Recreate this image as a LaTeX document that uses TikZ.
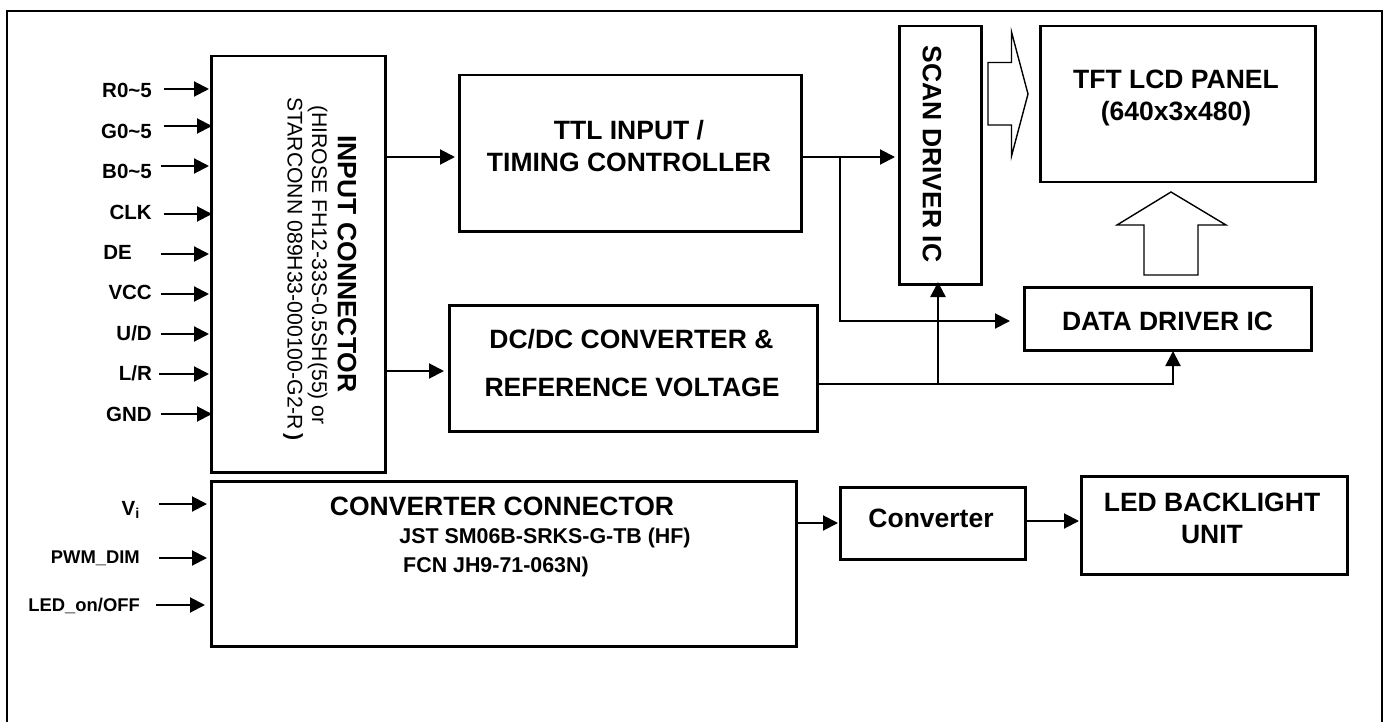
\documentclass[tikz,border=0pt]{standalone}
\usepackage{fontspec}
\setmainfont{Liberation Sans}
\usetikzlibrary{arrows.meta}
\tikzset{x=1pt,y=-1pt,
 block/.style={draw,line width=2.5pt,minimum width=0pt,minimum height=0pt,inner sep=0pt},
 lab/.style={font=\bfseries\fontsize{20.5}{20.5}\selectfont,inner sep=0pt},
 big/.style={font=\bfseries\fontsize{26.5}{32}\selectfont,inner sep=0pt,align=center},
 mid/.style={font=\bfseries\fontsize{21.4}{21.4}\selectfont,inner sep=0pt},
 sml/.style={font=\bfseries\fontsize{18.4}{18.4}\selectfont,inner sep=0pt},
 rot/.style={font=\fontsize{21.2}{21.2}\selectfont,inner sep=0pt,rotate=-90},
 arr/.style={line width=2pt,-{Triangle[length=15pt,width=15pt]}},
 hollow/.style={draw,line width=1.4pt,miter limit=20}}
\newcommand{\blk}[5]{\node[block,anchor=north west,minimum width=#4-#2,minimum height=#5-#3] (#1) at (#2,#3) {};}
\begin{document}
\begin{tikzpicture}
\useasboundingbox (0,0) rectangle (1388,722);
\coordinate (f1) at (7,722);\coordinate (f2) at (7,11);\coordinate (f3) at (1382,11);\coordinate (f4) at (1382,722);
\draw[line width=1.6pt] (f1) -- (f2) -- (f3) -- (f4);
\blk{inp}{210}{55}{384}{471}
\blk{ttl}{458}{74}{800}{230}
\blk{dc}{448}{304}{816}{430}
\blk{scan}{898}{25}{980}{283}
\blk{tft}{1039}{25}{1314}{181}
\blk{data}{1023}{286}{1310}{349}
\blk{cc}{210}{480}{795}{645}
\blk{conv}{839}{486}{1024}{558}
\blk{led}{1080}{475}{1346}{573}
% labels
\node[lab,anchor=east] at (152,90) (l1) {R0\textasciitilde5};
\node[lab,anchor=east] at (152,131) (l2) {G0\textasciitilde5};
\node[lab,anchor=east] at (152,171) (l3) {B0\textasciitilde5};
\node[lab,anchor=east] at (152,212) (l4) {CLK};
\node[lab,anchor=east] at (132,252) (l5) {DE};
\node[lab,anchor=east] at (152,292) (l6) {VCC};
\node[lab,anchor=east] at (152,333) (l7) {U/D};
\node[lab,anchor=east] at (152,373) (l8) {L/R};
\node[lab,anchor=east] at (152,414) (l9) {GND};
\foreach \n/\s/\y/\e in {l1/164/89/209,l2/164/126/212,l3/161/166/209,l4/164/214/212,l5/161/254/209,l6/161/294/209,l7/161/334/209,l8/159/374/209,l9/161/414/212}{
 \coordinate (s\n) at (\s,\y); \coordinate (e\n) at (\e,\y);
 \draw[arr] (s\n) -- (e\n);
}
\node[big,rotate=-90] (t1) at (347,264) {INPUT CONNECTOR};
\node[rot] (t2) at (317.5,265) {(HIROSE FH12-33S-0.5SH(55) or};
\node[rot] (t3) at (293,269) {STARCONN 089H33-000100-G2-R\,{\bfseries)}};
\node[big] (t4) at (629,146.5) {TTL INPUT /\\TIMING CONTROLLER};
\node[big] (t5) at (631.5,339) {DC/DC CONVERTER \&};
\node[big] (t6) at (632,387) {REFERENCE VOLTAGE};
\node[big,rotate=-90] (t7) at (932,154) {SCAN DRIVER IC};
\node[big] (t8) at (1176,98) {TFT LCD PANEL\\(640x3x480)};
\node[big] (t9) at (1167.5,321) {DATA DRIVER IC};
\node[big] (t10) at (502,506) {CONVERTER CONNECTOR};
\node[mid] (t11) at (545,538) {JST SM06B-SRKS-G-TB (HF)};
\node[mid] (t12) at (496,567) {FCN JH9-71-063N)};
\node[big] (t13) at (931,518) {Converter};
\node[big] (t14) at (1212,518.5) {LED BACKLIGHT\\UNIT};
\node[lab,anchor=east] (v1) at (140,510) {V\textsubscript{i}};
\node[sml,anchor=east] (v2) at (140,558) {PWM\_DIM};
\node[sml,anchor=east] (v3) at (140,606) {LED\_on/OFF};
\foreach \n/\s/\y/\e in {v1/159/504/207,v2/159/558/207,v3/156/605/205}{
 \coordinate (s\n) at (\s,\y); \coordinate (e\n) at (\e,\y);
 \draw[arr] (s\n) -- (e\n);
}
% connectors
\coordinate (a1) at (387,157);\coordinate (a2) at (455,157);
\draw[arr] (a1) -- (a2);
\coordinate (a3) at (385,371);\coordinate (a4) at (444,371);
\draw[arr] (a3) -- (a4);
\coordinate (b1) at (803,157);\coordinate (b2) at (895,157);\coordinate (b3) at (840,157);\coordinate (b4) at (840,321);\coordinate (b5) at (1010,321);
\draw[arr] (b1) -- (b2);
\draw[arr] (b3) -- (b4) -- (b5);
\coordinate (c1) at (819,384);\coordinate (c2) at (1173,384);\coordinate (c3) at (1173,351);\coordinate (c4) at (938,384);\coordinate (c5) at (938,282);
\draw[arr] (c1) -- (c2) -- (c3);
\draw[arr,line width=2.4pt] (c4) -- (c5);
% hollow arrows
\draw[hollow] (988,62.5) -- (1011.5,62.5) -- (1011.5,32) -- (1028,94) -- (1011.5,156) -- (1011.5,125) -- (988,125) -- cycle;
\draw[hollow] (1144,275) -- (1144,225) -- (1117,225) -- (1171,192) -- (1226,225) -- (1198,225) -- (1198,275) -- cycle;
% lower
\coordinate (d1) at (796,523);\coordinate (d2) at (838,523);
\draw[arr] (d1) -- (d2);
\coordinate (d3) at (1025,521);\coordinate (d4) at (1079,521);
\draw[arr] (d3) -- (d4);
\end{tikzpicture}
\end{document}
